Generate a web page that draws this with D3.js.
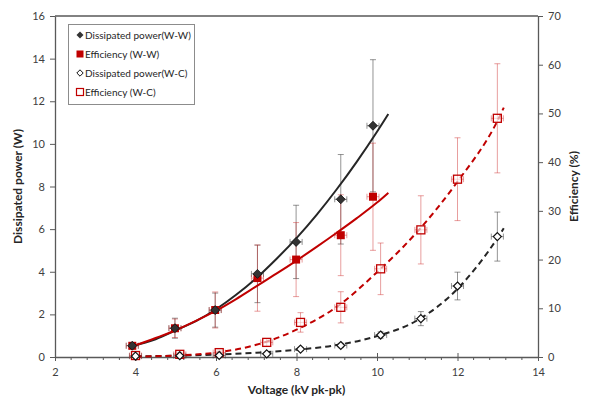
<!DOCTYPE html>
<html><head><meta charset="utf-8">
<script src="https://cdn.jsdelivr.net/npm/d3@7"></script>
<style>body{margin:0;background:#fff}svg{display:block}</style>
</head><body><svg id="c" width="590" height="403"></svg>
<script>
// ---- data ----
const wwVoltage = [3.92, 4.98, 5.98, 7.03, 7.99, 9.10, 9.90];
const wwPower = [0.53, 1.35, 2.20, 3.90, 5.40, 7.40, 10.85];
const wwPowerErr = [0.15, 0.47, 0.80, 1.35, 1.72, 2.10, 3.10];
const wwEff = [2.3, 5.9, 9.65, 16.2, 20.0, 25.0, 32.9];
const wwEffErr = [0.6, 1.9, 3.7, 6.8, 7.6, 8.3, 11.0];
const wwVoltErr = [0.15, 0.15, 0.15, 0.15, 0.15, 0.15, 0.15];

const wcVoltage = [4.00, 5.10, 6.08, 7.26, 8.10, 9.10, 10.09, 11.09, 12.00, 12.99];
const wcPower = [0.04, 0.06, 0.07, 0.15, 0.37, 0.54, 1.03, 1.80, 3.33, 5.65];
const wcPowerErr = [0.02, 0.03, 0.03, 0.05, 0.08, 0.10, 0.15, 0.33, 0.65, 1.15];
const wcEff = [0.3, 0.55, 0.9, 3.0, 7.1, 10.2, 18.1, 26.1, 36.5, 49.0];
const wcEffErr = [0.3, 0.4, 0.5, 0.8, 2.0, 3.2, 5.3, 7.0, 8.5, 11.2];
const wcVoltErr = [0.15, 0.15, 0.15, 0.15, 0.15, 0.15, 0.15, 0.15, 0.15, 0.15];

// trend lines
const wwFitVoltage = [3.9, 4.5, 5, 5.5, 6, 6.5, 7, 7.5, 8, 8.5, 9, 9.5, 10, 10.28];
const wwPowerFit = [0.5, 0.83, 1.25, 1.68, 2.24, 2.92, 3.70, 4.60, 5.58, 6.67, 7.87, 9.17, 10.57, 11.4];
const wwEffFit = [2.1, 3.9, 5.5, 7.4, 9.5, 11.9, 14.5, 17.1, 19.8, 22.6, 25.5, 28.5, 31.7, 33.7];
const wcFitVoltage = [4, 5, 6, 7, 8, 9, 10, 11, 12, 13, 13.15];
const wcPowerFit = [0.03, 0.06, 0.11, 0.2, 0.34, 0.56, 0.98, 1.72, 3.2, 5.6, 6.04];
const wcEffFit = [0.1, 0.3, 0.9, 2.5, 5.6, 10.3, 17.4, 25.7, 36.0, 48.6, 51.2];

const xTicks = [2, 4, 6, 8, 10, 12, 14];
const yLeftTicks = [0, 2, 4, 6, 8, 10, 12, 14, 16];
const yRightTicks = [0, 10, 20, 30, 40, 50, 60, 70];
const legendLabels = ["Dissipated power(W-W)", "Efficiency (W-W)", "Dissipated power(W-C)", "Efficiency (W-C)"];

// ---- layout ----
const L = 55, R = 538, T = 16, B = 357;
const RED = "#c00000", BLK = "#262626", AX = "#595959", TXT = "#404040";
const svg = d3.select("#c");
const x = d3.scaleLinear().domain([2, 14]).range([L, R]);
const yL = d3.scaleLinear().domain([0, 16]).range([B, T]);
const yR = d3.scaleLinear().domain([0, 70]).range([B, T]);

// frame top
svg.append("line").attr("x1", L).attr("x2", R).attr("y1", T).attr("y2", T).attr("stroke", AX).attr("stroke-width", 1.3);

// axes
const fontTick = "11px Lato";
const gx = svg.append("g").attr("transform", `translate(0,${B})`)
  .call(d3.axisBottom(x).tickValues(xTicks).tickSize(4).tickSizeOuter(0).tickPadding(7));
gx.selectAll(".tick line").attr("y1", -4);
const minor = d3.range(2, 14.001, 0.4).filter(v => Math.abs(v/2 - Math.round(v/2)) > 0.01);
svg.append("g").selectAll("line").data(minor).join("line")
  .attr("x1", d => x(d)).attr("x2", d => x(d)).attr("y1", B).attr("y2", B + 3)
  .attr("stroke", AX).attr("stroke-width", 1);
const gl = svg.append("g").attr("transform", `translate(${L},0)`)
  .call(d3.axisLeft(yL).tickValues(yLeftTicks).tickSize(5).tickSizeOuter(0).tickPadding(5));
const gr = svg.append("g").attr("transform", `translate(${R},0)`)
  .call(d3.axisRight(yR).tickValues(yRightTicks).tickSize(5).tickSizeOuter(0).tickPadding(5));
[gx, gl, gr].forEach(g => {
  g.select(".domain").attr("stroke", AX).attr("stroke-width", 1.3);
  g.selectAll(".tick line").attr("stroke", AX).attr("stroke-width", 1);
  g.selectAll(".tick text").attr("fill", TXT).style("font", fontTick);
});

// axis titles
svg.append("text").attr("x", (L + R) / 2).attr("y", 394).attr("text-anchor", "middle")
  .style("font", "bold 12px Lato").attr("fill", "#262626").text("Voltage (kV pk-pk)");
svg.append("text").attr("transform", `translate(22,${(T + B) / 2}) rotate(-90)`).attr("text-anchor", "middle")
  .style("font", "bold 12px Lato").attr("fill", "#262626").text("Dissipated power (W)");
svg.append("text").attr("transform", `translate(578,${(T + B) / 2}) rotate(-90)`).attr("text-anchor", "middle")
  .style("font", "bold 12px Lato").attr("fill", "#262626").text("Efficiency (%)");

// error bars
function errorBars(vs, ys, yErr, xErr, yScale, color) {
  const g = svg.append("g").attr("stroke", color).attr("stroke-width", 1).attr("fill", "none");
  vs.forEach((v, i) => {
    const cx = x(v), cy = yScale(ys[i]);
    const y1 = yScale(ys[i] + yErr[i]), y2 = yScale(Math.max(0, ys[i] - yErr[i]));
    const x1 = x(v - xErr[i]), x2 = x(v + xErr[i]);
    g.append("line").attr("x1", cx).attr("x2", cx).attr("y1", y1).attr("y2", y2);
    g.append("line").attr("x1", cx - 3).attr("x2", cx + 3).attr("y1", y1).attr("y2", y1);
    g.append("line").attr("x1", cx - 3).attr("x2", cx + 3).attr("y1", y2).attr("y2", y2);
    g.append("line").attr("x1", x1).attr("x2", x2).attr("y1", cy).attr("y2", cy);
    g.append("line").attr("x1", x1).attr("x2", x1).attr("y1", cy - 3).attr("y2", cy + 3);
    g.append("line").attr("x1", x2).attr("x2", x2).attr("y1", cy - 3).attr("y2", cy + 3);
  });
}
const GREYERR = "rgba(60,60,60,0.55)", REDERR = "rgba(205,40,40,0.45)";
errorBars(wcVoltage, wcPower, wcPowerErr, wcVoltErr, yL, GREYERR);
errorBars(wcVoltage, wcEff, wcEffErr, wcVoltErr, yR, REDERR);
errorBars(wwVoltage, wwPower, wwPowerErr, wwVoltErr, yL, GREYERR);
errorBars(wwVoltage, wwEff, wwEffErr, wwVoltErr, yR, REDERR);

// fit lines
function fit(vs, ys, yScale, color, dashed) {
  const line = d3.line().x((d, i) => x(vs[i])).y(d => yScale(d)).curve(d3.curveMonotoneX);
  svg.append("path").attr("d", line(ys)).attr("fill", "none").attr("stroke", color)
    .attr("stroke-width", 2).attr("stroke-dasharray", dashed ? "6,4" : null);
}
fit(wcFitVoltage, wcPowerFit, yL, BLK, true);
fit(wcFitVoltage, wcEffFit, yR, RED, true);
fit(wwFitVoltage, wwPowerFit, yL, BLK, false);
fit(wwFitVoltage, wwEffFit, yR, RED, false);

// markers
const diamond = d3.symbol().type(d3.symbolDiamond2 || d3.symbolDiamond).size(40);
function diamondPath(s) { return `M0,${-s}L${s},0L0,${s}L${-s},0Z`; }
function markers(vs, ys, yScale, kind) {
  const g = svg.append("g");
  vs.forEach((v, i) => {
    const cx = x(v), cy = yScale(ys[i]);
    if (kind === "fd") g.append("path").attr("d", diamondPath(4.5)).attr("transform", `translate(${cx},${cy})`).attr("fill", "#333").attr("stroke", "#111").attr("stroke-width", 0.8);
    if (kind === "od") g.append("path").attr("d", diamondPath(4)).attr("transform", `translate(${cx},${cy})`).attr("fill", "#fff").attr("stroke", "#111").attr("stroke-width", 1.2);
    if (kind === "fs") g.append("rect").attr("x", cx - 4).attr("y", cy - 4).attr("width", 8).attr("height", 8).attr("fill", RED);
    if (kind === "os") g.append("rect").attr("x", cx - 4).attr("y", cy - 4).attr("width", 8).attr("height", 8).attr("fill", "#fff").attr("fill-opacity", 0.6).attr("stroke", RED).attr("stroke-width", 1.3);
  });
}
markers(wcVoltage, wcEff, yR, "os");
markers(wcVoltage, wcPower, yL, "od");
markers(wwVoltage, wwEff, yR, "fs");
markers(wwVoltage, wwPower, yL, "fd");

// legend
const lg = svg.append("g");
lg.append("rect").attr("x", 68.5).attr("y", 24.5).attr("width", 126).attr("height", 80)
  .attr("fill", "#fff").attr("stroke", "#8c8c8c").attr("stroke-width", 1);
const kinds = ["fd", "fs", "od", "os"];
legendLabels.forEach((t, i) => {
  const cy = 35 + i * 19, cx = 80;
  const k = kinds[i];
  if (k === "fd") lg.append("path").attr("d", diamondPath(3.5)).attr("transform", `translate(${cx},${cy})`).attr("fill", "#333");
  if (k === "od") lg.append("path").attr("d", diamondPath(3.2)).attr("transform", `translate(${cx},${cy})`).attr("fill", "#fff").attr("stroke", "#111").attr("stroke-width", 1);
  if (k === "fs") lg.append("rect").attr("x", cx - 3.5).attr("y", cy - 3.5).attr("width", 7).attr("height", 7).attr("fill", RED);
  if (k === "os") lg.append("rect").attr("x", cx - 3.5).attr("y", cy - 3.5).attr("width", 7).attr("height", 7).attr("fill", "#fff").attr("stroke", RED).attr("stroke-width", 1.2);
  lg.append("text").attr("x", 85).attr("y", cy + 3.5).style("font", "10px Lato").attr("fill", "#262626").text(t);
});
</script></body></html>
